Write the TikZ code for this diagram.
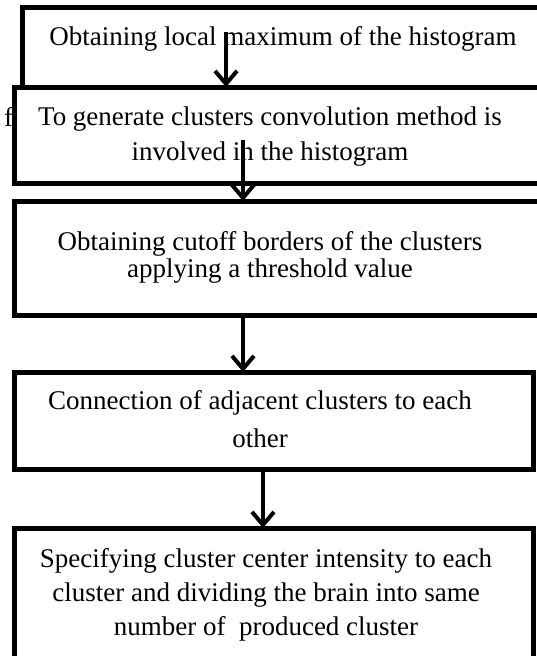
\documentclass[tikz,border=0pt]{standalone}
\usepackage{fontspec}
\setmainfont{Liberation Serif}
\usetikzlibrary{arrows.meta}

\tikzset{
	stage/.style={draw, line width=5pt, fill=white},
	stagetext/.style={anchor=base, align=center, inner sep=0pt},
	flow/.style={line width=4pt, -{Straight Barb[length=13pt, width=22pt]}}
}

\begin{document}
\begin{tikzpicture}[x=1pt, y=-1pt]

	\useasboundingbox (0, 0) rectangle (537, 656);
	\clip (0, 0) rectangle (537, 656);

	\draw [stage] (22, 7) rectangle (580, 87);
	\node [stagetext, anchor=base west, font=\fontsize{27}{27}\selectfont] (stray) at (4, 126) {f};
	\draw [stage] (14, 87) rectangle (580, 183);
	\draw [stage] (14, 201) rectangle (580, 315);
	\draw [stage] (14, 372) rectangle (533, 469);
	\draw [stage] (14, 528) rectangle (533, 690);

	% base anchor = baseline of the last line
	\node [stagetext, font=\fontsize{27}{35}\selectfont] (s1) at (283, 45) {Obtaining local maximum of the histogram};
	\node [stagetext, font=\fontsize{27}{35}\selectfont] (s2) at (270, 160) {To generate clusters convolution method is\\involved in the histogram};
	\node [stagetext, font=\fontsize{27}{27}\selectfont] (s3) at (270, 277) {Obtaining cutoff borders of the clusters\\applying a threshold value};
	\node [stagetext, font=\fontsize{27}{38}\selectfont] (s4) at (260, 447) {Connection of adjacent clusters to each\\other};
	\node [stagetext, font=\fontsize{27}{34}\selectfont] (s5) at (266, 635) {Specifying cluster center intensity to each\\cluster and dividing the brain into same\\number of~ produced cluster};

	\coordinate (a1s) at (226, 32);
	\coordinate (a1e) at (226, 87);
	\coordinate (a2s) at (243, 140);
	\coordinate (a2e) at (243, 201);
	\coordinate (a3s) at (243, 315);
	\coordinate (a3e) at (243, 372);
	\coordinate (a4s) at (263, 469);
	\coordinate (a4e) at (263, 528);

	\draw [flow] (a1s) -- (a1e);
	\draw [flow] (a2s) -- (a2e);
	\draw [flow] (a3s) -- (a3e);
	\draw [flow] (a4s) -- (a4e);

\end{tikzpicture}
\end{document}
